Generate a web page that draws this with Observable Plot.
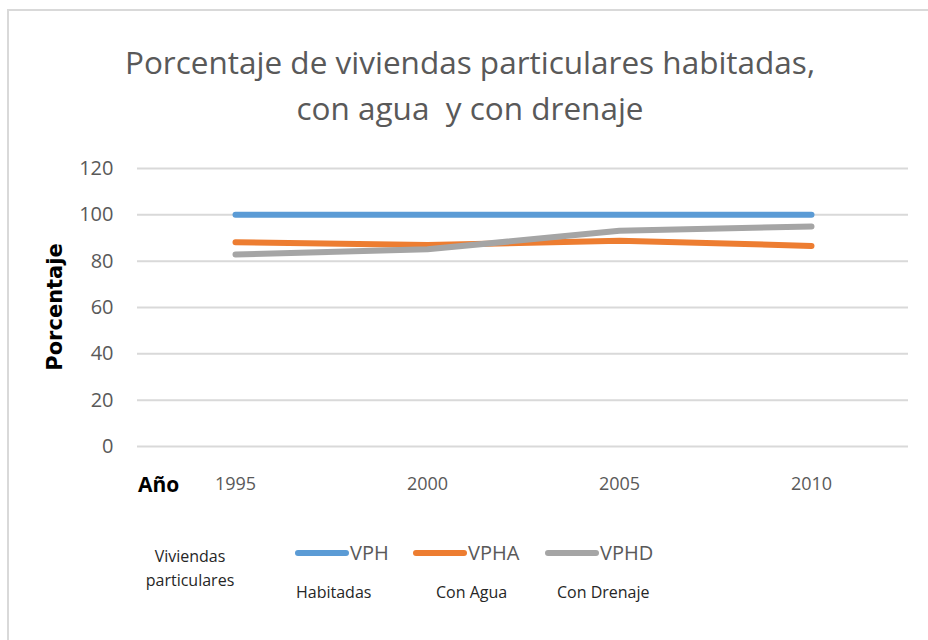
<!DOCTYPE html>
<html>
<head>
<meta charset="utf-8">
<script src="https://cdn.jsdelivr.net/npm/d3@7"></script>
<script src="https://cdn.jsdelivr.net/npm/@observablehq/plot@0.6"></script>
<style>
  html, body { margin: 0; padding: 0; background: #fff; }
  #wrap { position: relative; width: 928px; height: 640px; overflow: hidden; background: #fff; font-family: "Open Sans", sans-serif; }
  .abs { position: absolute; white-space: pre; }
  #frame { left: 7px; top: 9px; width: 960px; height: 700px; border-left: 2px solid #d9d9d9; border-top: 2px solid #d9d9d9; }
  .title { left: 0; width: 940px; text-align: center; color: #595959; font-family: "Open Sans", sans-serif; font-size: 31.5px; line-height: 40px; }
  #plot { left: 0; top: 150px; }
  .axlab { color: #000; font-weight: bold; }
  .sw { height: 6px; border-radius: 3px; }
  .lg { color: #595959; font-size: 20px; line-height: 24px; }
  .sub { color: #262626; font-size: 16px; line-height: 20px; }
</style>
</head>
<body>
<div id="wrap">
  <div id="frame" class="abs"></div>
  <div id="t1" class="abs title" style="top:42px"></div>
  <div id="t2" class="abs title" style="top:88px"></div>
  <div id="plot" class="abs"></div>
  <div id="ylab" class="abs axlab" style="left:55px; top:307px; transform: translate(-50%,-50%) rotate(-90deg); font-family:'DejaVu Sans',sans-serif; font-size:21px;"></div>
  <div id="xlab" class="abs axlab" style="left:138px; top:470px; font-family:'Open Sans',sans-serif; font-size:21px; line-height:28px;"></div>
  <div id="legend"></div>
</div>
<script>
// ---- data ----
const titleLines = ["Porcentaje de viviendas particulares habitadas,", "con agua  y con drenaje"];
const yLabel = "Porcentaje";
const xLabel = "Año";
const years = ["1995", "2000", "2005", "2010"];
const seriesNames = ["VPH", "VPHA", "VPHD"];
const seriesDesc = ["Habitadas", "Con Agua", "Con Drenaje"];
const legendTitle = ["Viviendas", "particulares"];
const colors = ["#5b9bd5", "#ed7d31", "#a5a5a5"];
const vph  = [100, 100, 100, 100];
const vpha = [88.2, 87.0, 88.8, 86.6];
const vphd = [82.9, 85.1, 93.1, 95.0];
const yTicks = [0, 20, 40, 60, 80, 100, 120];

// ---- build table ----
const seriesValues = [vph, vpha, vphd];
const rows = [];
seriesNames.forEach((s, i) => years.forEach((y, j) => rows.push({series: s, year: y, value: seriesValues[i][j]})));

document.getElementById("t1").textContent = titleLines[0];
document.getElementById("t2").textContent = titleLines[1];
document.getElementById("ylab").textContent = yLabel;
document.getElementById("xlab").textContent = xLabel;

const chart = Plot.plot({
  width: 928,
  height: 350,
  marginLeft: 137,
  marginRight: 20,
  marginTop: 18,
  marginBottom: 54,
  style: {fontFamily: "Open Sans, sans-serif", color: "#595959", background: "transparent"},
  x: {type: "point", domain: years, padding: 0.5, axis: null},
  y: {domain: [0, 120], axis: null},
  color: {domain: seriesNames, range: colors},
  marks: [
    Plot.gridY(yTicks, {stroke: "#d9d9d9", strokeOpacity: 1, strokeWidth: 2}),
    Plot.axisY(yTicks, {tickSize: 0, tickPadding: 24, fontSize: 20, label: null}),
    Plot.axisX(years, {tickSize: 0, tickPadding: 31, fontSize: 18, label: null}),
    Plot.line(rows, {x: "year", y: "value", z: "series", stroke: "series", strokeWidth: 6, strokeLinecap: "round", strokeLinejoin: "round"})
  ]
});
document.getElementById("plot").appendChild(chart);

// ---- legend ----
const lg = document.getElementById("legend");
const swX = [295, 413, 545];
const sw = 54;
const subX = [296, 436, 557];
function add(html, style, cls) {
  const d = document.createElement("div");
  d.className = "abs " + cls;
  d.setAttribute("style", style);
  d.textContent = html;
  lg.appendChild(d);
  return d;
}
add(legendTitle[0], "left:190px; top:546px; transform:translateX(-50%); text-align:center;", "sub");
add(legendTitle[1], "left:190px; top:570px; transform:translateX(-50%); text-align:center;", "sub");
seriesNames.forEach((s, i) => {
  add("", `left:${swX[i]}px; top:550px; width:${sw}px; background:${colors[i]};`, "sw");
  add(s, `left:${swX[i] + sw + 1}px; top:541px;`, "lg");
  add(seriesDesc[i], `left:${subX[i]}px; top:582px;`, "sub");
});
</script>
</body>
</html>
